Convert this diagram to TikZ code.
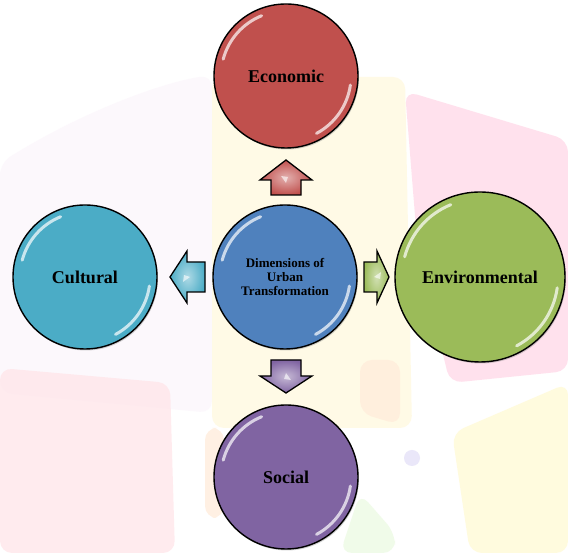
\documentclass[tikz,border=0pt]{standalone}
\usepackage{fontspec}
\setmainfont{Liberation Serif}
\usetikzlibrary{shadows,calc}
\definecolor{cblue}{HTML}{4F81BD}
\definecolor{cred}{HTML}{C0504D}
\definecolor{cteal}{HTML}{4BACC6}
\definecolor{cgreen}{HTML}{9BBB59}
\definecolor{cpurple}{HTML}{8064A2}
\definecolor{bgpink}{RGB}{255,216,232}
\definecolor{bgyellow}{RGB}{255,249,222}
\definecolor{bglav}{RGB}{252,246,252}
\definecolor{bgrose}{RGB}{255,229,233}
\definecolor{bgyel2}{RGB}{255,250,212}
\definecolor{bggreen}{RGB}{236,250,226}
\definecolor{bgpeach}{RGB}{255,236,218}
\definecolor{bgviolet}{RGB}{220,215,245}
\tikzset{
  ball/.style={circle, draw=black, line width=1.4pt, fill=#1, minimum size=144pt,
    inner sep=0pt, align=center, font=\bfseries\fontsize{18}{20}\selectfont,
    drop shadow={opacity=0.35, shadow xshift=1pt, shadow yshift=-1.5pt}},
  blockarrow/.style={draw=black, line width=1.3pt, line join=miter,
    inner color=#1!45!white, outer color=#1},
  gloss/.style={white, line width=3pt, line cap=round, opacity=0.7},
  bgshape/.style={fill=#1, draw=none, rounded corners=12pt, fill opacity=0.75}
}
% block arrow: #1 centre, #2 rotation, #3 length, #4 head length, #5 colour
\newcommand{\blockarr}[5]{%
  \begin{scope}[shift={#1}, rotate=#2]
    \path[blockarrow=#5] (-#3/2,-15) -- (#3/2-#4,-15) -- (#3/2-#4,-26) -- (#3/2,0)
      -- (#3/2-#4,26) -- (#3/2-#4,15) -- (-#3/2,15) -- cycle;
    \fill[white, opacity=0.6] (#3/2-#4-3,0) -- (#3/2-#4+4,5) -- (#3/2-#4+3,-2) -- cycle;
  \end{scope}}
\newcommand{\glossy}[2]{%
  \draw[gloss] ($(#1)+(112:#2)$) arc[start angle=112, end angle=165, radius=#2];
  \draw[gloss] ($(#1)+(-8:#2)$) arc[start angle=-8, end angle=-62, radius=#2];
}
\begin{document}
\begin{tikzpicture}[x=1pt,y=1pt]
\useasboundingbox (0,0) rectangle (568,553);
\fill[white] (0,0) rectangle (568,553);
% faint background pattern
\path[bgshape=bglav] (0,390) .. controls (80,440) and (160,470) .. (212,478) -- (212,140) -- (0,160) -- cycle;
\path[bgshape=bgyellow] (212,476) -- (405,476) -- (412,125) -- (212,125) -- cycle;
\path[bgshape=bgpink] (405,462) -- (568,413) -- (568,182) -- (450,170) -- (418,300) -- cycle;
\path[bgshape=bgrose] (0,185) -- (170,170) -- (175,0) -- (0,0) -- cycle;
\path[bgshape=bgyel2] (452,120) -- (568,170) -- (568,0) -- (470,0) -- cycle;
\path[bgshape=bggreen] (360,60) -- (395,20) -- (395,0) -- (340,0) -- cycle;
\path[bgshape=bgpeach] (360,193) -- (400,193) -- (400,128) -- (360,140) -- cycle;
\path[bgshape=bgpeach] (205,125) -- (224,125) -- (224,35) -- (205,35) -- cycle;
\fill[bgviolet, opacity=0.6] (412,95) circle[radius=8pt];
% arrows
\blockarr{(286,375.5)}{90}{35}{20}{cred}
\blockarr{(286,176.5)}{270}{33}{17}{cpurple}
\blockarr{(187.5,276)}{180}{35}{17}{cteal}
\blockarr{(376.5,276)}{0}{25}{12}{cgreen}
% circles
\node[ball=cblue, font=\bfseries\fontsize{13}{14}\selectfont] (center) at (285,276) {Dimensions of\\Urban\\Transformation};
\node[ball=cred] (econ) at (286,477) {Economic};
\node[ball=cteal] (cult) at (85,276) {Cultural};
\node[ball=cgreen, minimum size=170pt] (env) at (480,276) {Environmental};
\node[ball=cpurple] (soc) at (286,76) {Social};
% gloss highlights
\glossy{center}{65}
\glossy{econ}{65}
\glossy{cult}{65}
\glossy{soc}{65}
\glossy{env}{78}
\end{tikzpicture}
\end{document}
